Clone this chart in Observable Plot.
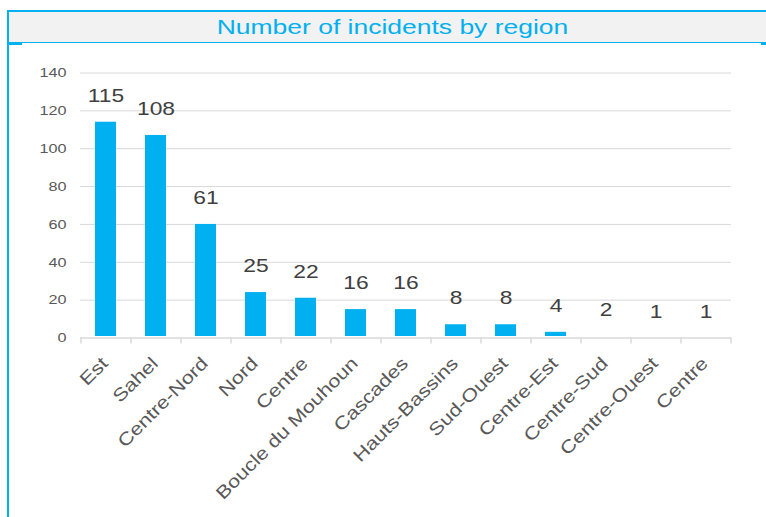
<!DOCTYPE html>
<html>
<head>
<meta charset="utf-8">
<script src="https://cdn.jsdelivr.net/npm/d3@7"></script>
<script src="https://cdn.jsdelivr.net/npm/@observablehq/plot@0.6"></script>
<style>
  html, body { margin: 0; padding: 0; background: #fff; }
  body { width: 766px; height: 517px; position: relative; overflow: hidden; font-family: "Liberation Sans", Arial, sans-serif; }
  #frame { position: absolute; left: 7px; top: 10px; width: 800px; height: 600px; border-left: 2px solid #00B0F0; border-top: 2px solid #00B0F0; z-index: 3; pointer-events: none; }
  #strip { position: absolute; left: 9px; top: 12px; width: 800px; height: 30px; background: #F2F2F2; border-bottom: 1.5px solid #00B0F0; z-index: 1; }
  #notchL { position: absolute; left: 9px; top: 43px; width: 13px; height: 1.5px; background: #00B0F0; z-index: 2; }
  #notchR { position: absolute; left: 761px; top: 43px; width: 6px; height: 1.5px; background: #00B0F0; z-index: 2; }
  #title { position: absolute; left: 0; top: 12px; width: 784px; height: 30px; line-height: 30px; text-align: center; z-index: 2; }
  #title span { display: inline-block; font-size: 21px; color: #00B0F0; transform: scaleX(1.26); transform-origin: center; white-space: nowrap; }
  #chart { position: absolute; left: 0; top: 44px; z-index: 1; }
</style>
</head>
<body>
<div id="strip"></div>
<div id="notchL"></div>
<div id="notchR"></div>
<div id="title"><span>Number of incidents by region</span></div>
<div id="chart"></div>
<div id="frame"></div>
<script>
const regions = ["Est", "Sahel", "Centre-Nord", "Nord", "Centre", "Boucle du Mouhoun", "Cascades", "Hauts-Bassins", "Sud-Ouest", "Centre-Est", "Centre-Sud", "Centre-Ouest", "Centre"];
const labelValues = [115, 108, 61, 25, 22, 16, 16, 8, 8, 4, 2, 1, 1];
const barValues = [114, 107, 60, 24, 21, 15, 15, 7, 7, 3, 0, 0, 0];
const yTicks = [0, 20, 40, 60, 80, 100, 120, 140];

const idx = regions.map((_, i) => i);
const W = 766, H = 473, mL = 80, mR = 35;
const step = (W - mL - mR) / regions.length;
const S = 1.2; // horizontal glyph stretch seen in the reference

const chart = Plot.plot({
  width: W,
  height: H,
  marginTop: 28.5,
  marginBottom: 179.5,
  marginLeft: mL,
  marginRight: mR,
  style: { background: "transparent", fontFamily: "'Liberation Sans', Arial, sans-serif" },
  x: { type: "band", domain: idx, paddingInner: 0.58, paddingOuter: 0.29, axis: null },
  y: { domain: [0, 140], axis: null },
  marks: [
    Plot.gridY(yTicks.filter(d => d > 0), { stroke: "#D9D9D9", strokeOpacity: 1, strokeWidth: 1 }),
    Plot.barY(idx.filter(i => barValues[i] > 0), { x: i => i, y: i => barValues[i], fill: "#00B0F0", insetBottom: 1.5 }),
    Plot.ruleY([0], { stroke: "#D9D9D9", strokeWidth: 1.5 }),
    Plot.ruleX(idx, { x: i => i, y1: 0, y2: 0, dx: -step / 2, insetBottom: -6, stroke: "#D9D9D9", strokeWidth: 1.5 }),
    Plot.ruleX([idx.length - 1], { x: i => i, y1: 0, y2: 0, dx: step / 2, insetBottom: -6, stroke: "#D9D9D9", strokeWidth: 1.5 }),
    Plot.axisY(yTicks, { tickSize: 0, tickPadding: 14, fontSize: 13.5, fill: "#595959" }),
    Plot.text(idx, { x: i => i, y: i => labelValues[i], text: i => String(labelValues[i]), dy: -24.5, fontSize: 19, fill: "#404040" }),
    Plot.text(idx, { x: i => i, text: i => regions[i], frameAnchor: "bottom", rotate: -45, textAnchor: "end", lineAnchor: "top", dx: -6, dy: 17.5, fontSize: 18, fill: "#595959" })
  ]
});

document.getElementById("chart").appendChild(chart);

chart.querySelectorAll("text").forEach(t => {
  const len = t.getComputedTextLength();
  if (len > 0) {
    t.setAttribute("textLength", (len * S).toFixed(2));
    t.setAttribute("lengthAdjust", "spacingAndGlyphs");
  }
});
</script>
</body>
</html>
